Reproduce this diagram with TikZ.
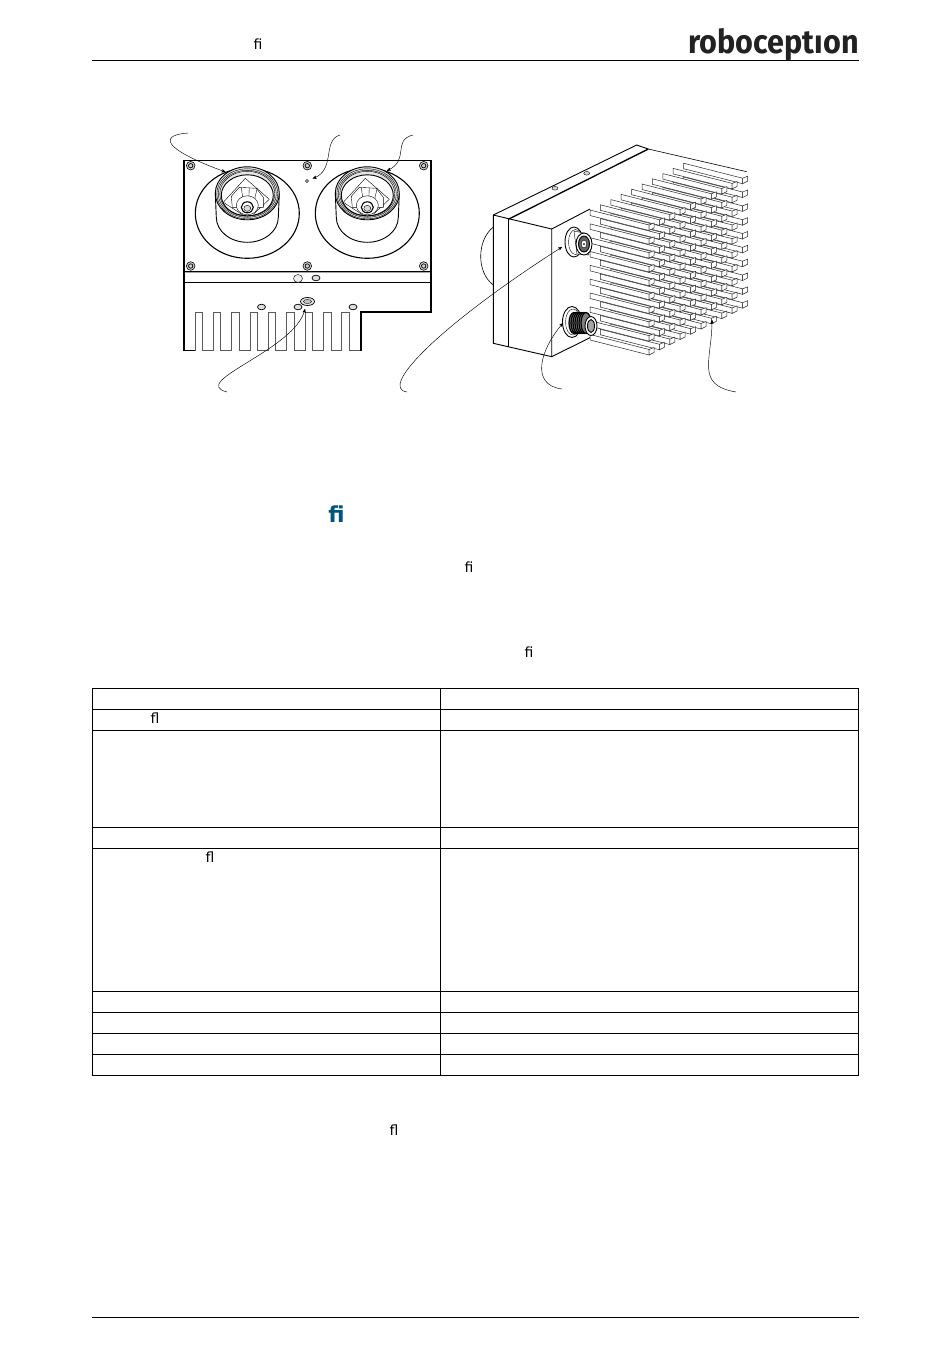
\documentclass[tikz,border=0pt]{standalone}
\usepackage{fontspec}
\setmainfont{DejaVu Sans}
\newfontfamily\logofont{Fira Sans}
\usetikzlibrary{arrows}
\definecolor{headblue}{RGB}{0,85,125}
\definecolor{logoblack}{RGB}{34,34,34}
\tikzset{
    rule/.style={line width=0.9pt},
    cellrule/.style={line width=1pt},
    outline/.style={line width=0.9pt, draw=black},
    thinline/.style={line width=0.4pt, draw=black},
    leader/.style={line width=0.45pt, ->, >=stealth'},
    screwhead/.style={line width=0.6pt, draw=black, fill=gray!35},
    finbar/.style={line width=0.5pt, draw=black!85, fill=white},
    ligature/.style={inner sep=0pt, font=\fontsize{14}{14}\selectfont},
}
\tikzset{
    lensunit/.pic={
        \draw[outline, line width=1.1pt] (0,20) ellipse [x radius=52, y radius=45];
        \draw[outline, fill=white] (-32,0) -- (-31,24) arc [start angle=180, end angle=0, x radius=31, y radius=25] -- (32,0);
        \draw[outline, fill=gray!20] (0,0) ellipse [x radius=32, y radius=26.5];
        \foreach \ringx/\ringy in {30.5/25,29/23.5,27.5/22.5} {
            \draw[thinline] (0,0.5) ellipse [x radius=\ringx, y radius=\ringy];
        }
        \draw[outline, fill=white] (0,2) ellipse [x radius=26, y radius=20.5];
        % holder
        \draw[thinline] (-24,9) -- (-2,-15) -- (22,6);
        \draw[thinline] (-24,9) -- (-4,22);
        \draw[thinline] (22,6) -- (6,21);
        \draw[thinline, fill=white] (-16,3) -- (-8,-6) -- (9,-5) -- (16,4) -- (16,14) -- (-15,14) -- cycle;
        \foreach \spokex in {-6,2,10} {
            \draw[thinline] (\spokex,-5.5) -- ({\spokex*0.75},5);
        }
        \draw[thinline, fill=white] (0,12) ellipse [x radius=11, y radius=9.5];
        \draw[outline, line width=1.1pt, fill=white] (0,14) ellipse [x radius=6, y radius=5.5];
        \draw[thinline, fill=gray!30] (0,15) ellipse [x radius=3.5, y radius=3];
    },
    screw/.pic={
        \draw[screwhead] (0,0) circle [radius=4.3];
        \draw[line width=0.7pt] (0,0) circle [radius=2.2];
    },
    oval/.pic={
        \draw[line width=0.7pt, fill=gray!25] (0,0) ellipse [x radius=4, y radius=2.8];
    },
}

\begin{document}
\begin{tikzpicture}[x=1pt,y=-1pt]
      \useasboundingbox (0,0) rectangle (950,1369);

      % HEADER AND FOOTER
      \draw[rule] (92,60.5) -- (858.5,60.5);
      \draw[rule] (92,1317) -- (858.5,1317);
      \node[ligature] (head_fi) at (258,44) {ﬁ};
      \node[inner sep=0pt, anchor=east, xscale=0.926, transform shape, text=logoblack, font=\logofont\bfseries\fontsize{33}{33}\selectfont] (logo) at (859,45) {roboceptıon};

      % TEXT
      \node[inner sep=0pt, text=headblue, font=\bfseries\fontsize{22}{22}\selectfont] (title_fi) at (336.5,514) {ﬁ};
      \node[ligature] (para_fi) at (469,567) {ﬁ};
      \node[ligature] (intro_fi) at (529,652) {ﬁ};
      \node[ligature] (note_fl) at (394,1130) {ﬂ};

      % TABLE
      \draw[cellrule] (92.5,688.5) rectangle (858.5,1075.5);
      \draw[cellrule] (440.5,688.5) -- (440.5,1075.5);
      \foreach \rowy in {709.5,730.5,827.5,848.5,991.5,1012.5,1033.5,1054.5}
          \draw[cellrule] (92.5,\rowy) -- (858.5,\rowy);
      \node[ligature] (cell_fl1) at (155,718) {ﬂ};
      \node[ligature] (cell_fl2) at (210,857) {ﬂ};

      % FRONT VIEW
      \draw[outline, line width=1.1pt] (184,160.5) rectangle (431,271.5);
      \draw[line width=1.6pt, draw=gray!70] (184,272.5) -- (431,272.5);
      \draw[outline, line width=1.1pt] (184,271.5) -- (184,351);
      \draw[outline, line width=1.1pt] (431,271.5) -- (431,312) -- (361,312) -- (361,351);
      \draw[outline, line width=1.1pt] (184,282.5) -- (431,282.5);
      \draw[outline] (184,350.7) -- (195,350.7);
      \foreach \slot in {0,...,8} {
          \draw[outline, line width=0.7pt, draw=black!65]
              ({195+18.35*\slot},350.7) -- ({195+18.35*\slot},312.7)
              -- ({202.4+18.35*\slot},312.7) -- ({202.4+18.35*\slot},350.7)
              -- ({213.4+18.35*\slot},350.7);
      }
      \pic at (247.3,193.3) {lensunit};
      \pic at (367.3,193.3) {lensunit};
      \foreach \sx in {190.7,307.3,423.7} {
          \pic at (\sx,165.7) {screw};
          \pic at (\sx,266) {screw};
      }
      \draw[thinline, fill=gray!15] (298,278.5) ellipse [x radius=4.5, y radius=4];
      \pic at (316,278) {oval};
      \pic at (261.5,307) {oval};
      \pic at (353,307) {oval};
      \pic at (298,307) {oval};
      \draw[thinline, line width=0.7pt, fill=gray!20] (307.5,301.5) ellipse [x radius=7, y radius=4];
      \draw[thinline, fill=gray!45] (307.5,301.5) ellipse [x radius=4, y radius=2];
      \node[circle, draw, line width=0.5pt, inner sep=0pt, minimum size=3pt] (led) at (307,181) {};

      % SIDE VIEW
      \draw[thinline, line width=0.6pt] (493.3,227) .. controls (477,240) and (476,272) .. (493.3,285);
      \draw[outline] (493.3,215) -- (636.7,145) -- (648.3,149);
      \draw[outline] (493.3,215) -- (493.3,343.3) -- (551.7,356.7) -- (551.7,229) -- (493.3,215);
      \draw[outline, line width=1.3pt] (508.3,219.3) -- (648.3,149);
      \draw[outline, line width=1.3pt] (508.3,219.3) -- (508.3,346.7);
      \draw[outline] (551.7,229) -- (590,209);
      \draw[outline] (551.7,356.7) -- (592,336.7);
      \draw[thinline, line width=0.6pt] (648.3,149) -- (746.7,171.7);
      \draw[thinline, fill=gray!30] (555,188.3) ellipse [x radius=3, y radius=1.8];
      \draw[thinline, fill=gray!30] (586.7,173.3) ellipse [x radius=3, y radius=1.8];
      % fins, back to front
      \foreach \col in {9,8,...,0} {
          \foreach \row in {0,...,9} {
              \begin{scope}[shift={({590+10.4*\col},{210-5.2*\col+13.83*\row})}]
                  \draw[finbar] (0,0) -- (59,15) -- (59,20.5) -- (0,5.5) -- cycle;
                  \draw[finbar] (59,15) -- (64,13) -- (64,18) -- (59,20.5) -- cycle;
              \end{scope}
          }
      }
      % connectors
      \draw[outline, fill=white] (574,242) ellipse [x radius=9, y radius=15];
      \draw[thinline, fill=white] (575.5,242) ellipse [x radius=7, y radius=12.5];
      \draw[thinline, fill=white] (574,231) -- (586,233.5) -- (589,255) -- (577,254) -- cycle;
      \draw[outline, fill=white] (584,244) ellipse [x radius=8, y radius=11];
      \draw[outline, fill=black!60] (584,244) ellipse [x radius=5.5, y radius=8];
      \draw[thinline, fill=white] (584,244) ellipse [x radius=2.8, y radius=4];
      \fill[black] (584,244) circle [radius=1];
      \draw[outline, fill=white] (572,322) ellipse [x radius=9.5, y radius=15.5];
      \draw[thinline, fill=white] (573,322) ellipse [x radius=7.5, y radius=13];
      \foreach \tx in {574,576,...,586}
          \draw[line width=1.2pt, fill=black!50] (\tx,323) ellipse [x radius=5, y radius=10.5];
      \draw[outline, fill=white] (591,326) ellipse [x radius=6, y radius=9.5];
      \draw[outline, fill=black!35] (591,326) ellipse [x radius=3.5, y radius=6.5];

      % LEADERS
      \coordinate (lens_end) at (188,133);
      \coordinate (lens_tip) at (225.5,172);
      \coordinate (led_end) at (340,135);
      \coordinate (led_tip) at (312.7,178.5);
      \coordinate (right_end) at (413,135);
      \coordinate (right_tip) at (387,170.7);
      \coordinate (hole_end) at (227,392);
      \coordinate (hole_tip) at (305,309);
      \coordinate (power_end) at (407,392);
      \coordinate (power_tip) at (562,247);
      \coordinate (eth_end) at (562,389);
      \coordinate (eth_tip) at (563,323);
      \coordinate (fin_end) at (736,392);
      \coordinate (fin_tip) at (712,320);
      \draw[leader] (lens_end) .. controls (160,135) and (160,148) .. (lens_tip);
      \draw[leader] (led_end) .. controls (322,140) and (336,170) .. (led_tip);
      \draw[leader] (right_end) .. controls (392,140) and (410,160) .. (right_tip);
      \draw[leader] (hole_end) .. controls (188,382) and (295,350) .. (hole_tip);
      \draw[leader] (power_end) .. controls (378,388) and (440,325) .. (power_tip);
      \draw[leader] (eth_end) .. controls (530,385) and (540,350) .. (eth_tip);
      \draw[leader] (fin_end) .. controls (695,385) and (712,360) .. (fin_tip);
\end{tikzpicture}
\end{document}
